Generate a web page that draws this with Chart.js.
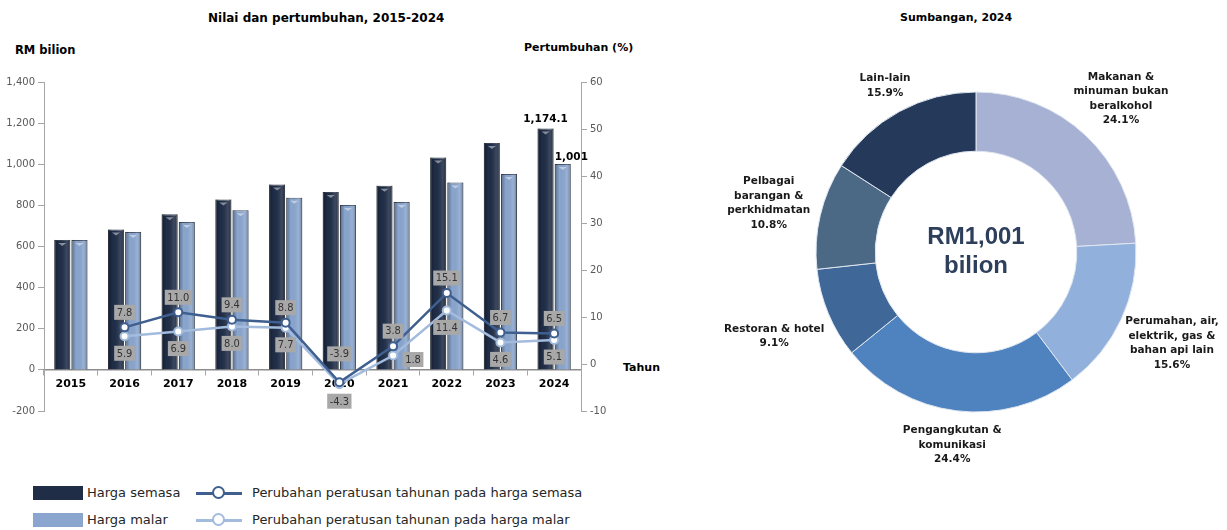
<!DOCTYPE html>
<html>
<head>
<meta charset="utf-8">
<script src="https://cdn.jsdelivr.net/npm/chart.js@4.4.1/dist/chart.umd.min.js"></script>
<style>
    body {
        margin: 0;
        width: 1227px;
        height: 530px;
        background: #fff;
        position: relative;
        overflow: hidden;
        font-family: "DejaVu Sans", sans-serif;
    }
    .abs { position: absolute; white-space: nowrap; }
    .hd { font-weight: bold; font-size: 12px; line-height: 14px; color: #000; }
    .lg { font-size: 13px; line-height: 16px; color: #262626; }
    .swatch { position: absolute; width: 50px; height: 14px; }
    .mline { position: absolute; width: 46px; height: 3px; }
    .mdot { position: absolute; width: 9px; height: 9px; border-radius: 50%; background: #fff; border: 2.5px solid; }
    #barWrap { position: absolute; left: 0; top: 70px; width: 620px; height: 352px; }
    #pieWrap { position: absolute; left: 690px; top: 40px; width: 537px; height: 440px; }
</style>
</head>
<body>

<div class="abs hd" style="left:208px; top:11px;">Nilai dan pertumbuhan, 2015-2024</div>
<div class="abs hd" style="left:15px; top:43px; font-size:11.5px;">RM bilion</div>
<div class="abs hd" style="left:524px; top:41px; font-size:11px;">Pertumbuhan (%)</div>
<div class="abs hd" style="left:623px; top:361px; font-size:11px;">Tahun</div>
<div class="abs hd" style="left:900px; top:11px; font-size:11px;">Sumbangan, 2024</div>

<div id="barWrap"><canvas id="barChart" width="620" height="352"></canvas></div>
<div id="pieWrap"><canvas id="pieChart" width="537" height="440"></canvas></div>

<!-- legend -->
<div class="swatch" style="left:33px; top:486px; background:#1f2d47;"></div>
<div class="abs lg" style="left:87px; top:485px;">Harga semasa</div>
<div class="mline" style="left:196px; top:491.5px; background:#3e5f8f;"></div>
<div class="mdot" style="left:212px; top:486px; border-color:#3e5f8f;"></div>
<div class="abs lg" style="left:252px; top:485px;">Perubahan peratusan tahunan pada harga semasa</div>

<div class="swatch" style="left:33px; top:513px; background:#8aa6cf;"></div>
<div class="abs lg" style="left:87px; top:512px;">Harga malar</div>
<div class="mline" style="left:196px; top:518.5px; background:#a3bbdd;"></div>
<div class="mdot" style="left:212px; top:513px; border-color:#a3bbdd;"></div>
<div class="abs lg" style="left:252px; top:512px;">Perubahan peratusan tahunan pada harga malar</div>

<script>
    'use strict';

    /**
     * Chart data
     */
    var years = ['2015', '2016', '2017', '2018', '2019', '2020', '2021', '2022', '2023', '2024'];
    var hargaSemasa = [632, 683, 757, 829, 902, 865, 896, 1033, 1103, 1174.1];
    var hargaMalar = [632, 671, 719, 776, 837, 802, 817, 911, 953, 1001];
    var growthSemasa = [null, 7.8, 11.0, 9.4, 8.8, -3.9, 3.8, 15.1, 6.7, 6.5];
    var growthMalar = [null, 5.9, 6.9, 8.0, 7.7, -4.3, 1.8, 11.4, 4.6, 5.1];
    var leftTicks = [-200, 0, 200, 400, 600, 800, 1000, 1200, 1400];
    var rightTicks = [-10, 0, 10, 20, 30, 40, 50, 60];

    var sectorNames = [
        ['Makanan &', 'minuman bukan', 'beralkohol'],
        ['Perumahan, air,', 'elektrik, gas &', 'bahan api lain'],
        ['Pengangkutan &', 'komunikasi'],
        ['Restoran & hotel'],
        ['Pelbagai', 'barangan &', 'perkhidmatan'],
        ['Lain-lain']
    ];
    var sectorShares = [24.1, 15.6, 24.4, 9.1, 10.8, 15.9];

    /**
     * Colours
     */
    var darkBar = '#1f2d47';
    var lightBar = '#8aa6cf';
    var darkLine = '#3e5f8f';
    var lightLine = '#a3bbdd';
    var sectorColors = ['#a7b1d3', '#91b1dc', '#4f83bf', '#3f6899', '#4b6885', '#253a5a'];
    var axisGray = '#a6a6a6';

    function formatNumber(num) {
        return Number(num).toLocaleString('en-US');
    }

    /**
     * Shading on the bars, drawn before the lines
     */
    var barShade = {
        id: 'barShade',
        afterDatasetDraw: function(chart, args) {
            var meta = args.meta;
            if (meta.type !== 'bar') return;
            var ctx = chart.ctx;
            meta.data.forEach(function(bar) {
                var left = bar.x - bar.width / 2;
                var top = Math.min(bar.y, bar.base);
                var h = Math.abs(bar.base - bar.y);
                var g = ctx.createLinearGradient(left, 0, left + bar.width, 0);
                g.addColorStop(0, 'rgba(0,0,0,0.35)');
                g.addColorStop(0.3, 'rgba(0,0,0,0)');
                g.addColorStop(0.75, 'rgba(255,255,255,0.12)');
                g.addColorStop(1, 'rgba(0,0,0,0.3)');
                ctx.save();
                ctx.fillStyle = g;
                ctx.fillRect(left, top, bar.width, h);
                // little cap highlight
                ctx.fillStyle = 'rgba(255,255,255,0.45)';
                ctx.beginPath();
                ctx.moveTo(left + 4, top + 3);
                ctx.lineTo(left + bar.width - 4, top + 3);
                ctx.lineTo(bar.x, top + 6);
                ctx.closePath();
                ctx.fill();
                ctx.restore();
            });
        }
    };

    /**
     * Grey boxed labels on the growth lines, value labels on last bars
     */
    var valueLabels = {
        id: 'valueLabels',
        afterDatasetsDraw: function(chart) {
            var ctx = chart.ctx;
            var zeroY = chart.scales.y.getPixelForValue(0);
            ctx.save();
            ctx.textAlign = 'center';
            ctx.textBaseline = 'middle';
            ctx.font = '11px "DejaVu Sans Condensed", "DejaVu Sans", sans-serif';

            [2, 3].forEach(function(di) {
                var meta = chart.getDatasetMeta(di);
                var values = chart.data.datasets[di].data;
                meta.data.forEach(function(pt, i) {
                    var v = values[i];
                    if (v === null) return;
                    var text = v.toFixed(1);
                    var cx = pt.x;
                    var cy;
                    if (di === 2) {
                        cy = pt.y - 15;
                        if (cy + 8 > zeroY) cy = zeroY - 16;
                    } else {
                        cy = pt.y + 17;
                        if (v >= 0 && cy + 8 > zeroY + 2) {
                            cx = pt.x + 20;
                            cy = pt.y + 4;
                        }
                    }
                    var w = ctx.measureText(text).width + 5;
                    ctx.fillStyle = '#a8a8a8';
                    ctx.fillRect(cx - w / 2, cy - 7.5, w, 15);
                    ctx.fillStyle = '#333';
                    ctx.fillText(text, cx, cy + 0.5);
                });
            });

            // totals on the 2024 bars
            ctx.font = 'bold 10.5px "DejaVu Sans", sans-serif';
            ctx.fillStyle = '#000';
            ctx.textBaseline = 'bottom';
            var last = years.length - 1;
            var b0 = chart.getDatasetMeta(0).data[last];
            var b1 = chart.getDatasetMeta(1).data[last];
            ctx.textAlign = 'center';
            ctx.fillText(formatNumber(hargaSemasa[last]), b0.x, b0.y - 4);
            ctx.textAlign = 'left';
            ctx.fillText(formatNumber(hargaMalar[last]), b1.x - b1.width / 2, b1.y - 2);
            ctx.restore();
        }
    };

    new Chart(document.getElementById('barChart'), {
        type: 'bar',
        data: {
            labels: years,
            datasets: [{
                label: 'Harga semasa',
                data: hargaSemasa,
                backgroundColor: darkBar,
                borderColor: '#3a4252',
                borderWidth: 1,
                categoryPercentage: 0.64,
                barPercentage: 0.93,
                yAxisID: 'y',
                order: 1
            }, {
                label: 'Harga malar',
                data: hargaMalar,
                backgroundColor: lightBar,
                borderColor: '#4a5568',
                borderWidth: 1,
                categoryPercentage: 0.64,
                barPercentage: 0.93,
                yAxisID: 'y',
                order: 1
            }, {
                type: 'line',
                label: 'Perubahan peratusan tahunan pada harga semasa',
                data: growthSemasa,
                borderColor: darkLine,
                borderWidth: 2.5,
                pointRadius: 4,
                pointBackgroundColor: '#fff',
                pointBorderColor: darkLine,
                pointBorderWidth: 2,
                tension: 0,
                yAxisID: 'y1',
                order: 0
            }, {
                type: 'line',
                label: 'Perubahan peratusan tahunan pada harga malar',
                data: growthMalar,
                borderColor: lightLine,
                borderWidth: 2.5,
                pointRadius: 4,
                pointBackgroundColor: '#fff',
                pointBorderColor: lightLine,
                pointBorderWidth: 2,
                tension: 0,
                yAxisID: 'y1',
                order: 0
            }]
        },
        options: {
            responsive: false,
            animation: false,
            events: [],
            layout: { padding: { top: 12, bottom: 11, left: 0, right: 0 } },
            plugins: {
                legend: { display: false },
                tooltip: { enabled: false }
            },
            scales: {
                x: {
                    position: { y: 0 },
                    offset: true,
                    grid: { offset: true, drawOnChartArea: false, tickLength: 5, color: axisGray },
                    border: { color: '#8c8c8c', width: 1.5 },
                    ticks: {
                        color: '#000',
                        padding: 3,
                        font: { family: '"DejaVu Sans", sans-serif', size: 11, weight: 'bold' }
                    }
                },
                y: {
                    position: 'left',
                    min: leftTicks[0],
                    max: leftTicks[leftTicks.length - 1],
                    afterBuildTicks: function(scale) {
                        scale.ticks = leftTicks.map(function(v) { return { value: v }; });
                    },
                    afterFit: function(scale) { scale.width = 44; },
                    grid: { drawOnChartArea: false, tickLength: 6, color: axisGray },
                    border: { color: axisGray },
                    ticks: {
                        color: '#595959',
                        padding: 3,
                        font: { family: '"DejaVu Sans", sans-serif', size: 10 },
                        callback: function(value) { return formatNumber(value); }
                    }
                },
                y1: {
                    position: 'right',
                    min: rightTicks[0],
                    max: rightTicks[rightTicks.length - 1],
                    afterBuildTicks: function(scale) {
                        scale.ticks = rightTicks.map(function(v) { return { value: v }; });
                    },
                    afterFit: function(scale) { scale.width = 39; },
                    grid: { drawOnChartArea: false, tickLength: 6, color: axisGray },
                    border: { color: axisGray },
                    ticks: {
                        color: '#595959',
                        padding: 3,
                        font: { family: '"DejaVu Sans", sans-serif', size: 10 }
                    }
                }
            }
        },
        plugins: [barShade, valueLabels]
    });

    /**
     * Doughnut labels outside the ring and the total in the hole
     */
    var ringLabels = {
        id: 'ringLabels',
        afterDraw: function(chart) {
            var ctx = chart.ctx;
            var meta = chart.getDatasetMeta(0);
            var lineH = 14.5;
            ctx.save();
            ctx.font = 'bold 10.5px "DejaVu Sans", sans-serif';
            ctx.fillStyle = '#1a1a1a';
            ctx.textAlign = 'center';
            ctx.textBaseline = 'middle';
            meta.data.forEach(function(arc, i) {
                var lines = sectorNames[i].concat([sectorShares[i].toFixed(1) + '%']);
                var w = 0;
                lines.forEach(function(l) { w = Math.max(w, ctx.measureText(l).width); });
                var h = lines.length * lineH;
                var mid = (arc.startAngle + arc.endAngle) / 2;
                var cos = Math.cos(mid), sin = Math.sin(mid);
                // push the block out until its half-extent clears the ring
                var ext = Math.sqrt(Math.pow(cos * w / 2, 2) + Math.pow(sin * h / 2, 2));
                var r = arc.outerRadius + 12 + ext;
                var cx = arc.x + r * cos;
                var cy = arc.y + r * sin;
                cx = Math.min(cx, chart.width - w / 2 - 2);
                lines.forEach(function(l, k) {
                    ctx.fillText(l, cx, cy - h / 2 + lineH * (k + 0.5));
                });
            });

            var a0 = meta.data[0];
            ctx.font = 'bold 24px "Liberation Sans", Arial, sans-serif';
            ctx.fillStyle = '#2e3f5c';
            ctx.fillText('RM' + formatNumber(hargaMalar[hargaMalar.length - 1]), a0.x, a0.y - 15);
            ctx.fillText('bilion', a0.x, a0.y + 14.5);
            ctx.restore();
        }
    };

    new Chart(document.getElementById('pieChart'), {
        type: 'doughnut',
        data: {
            labels: sectorNames.map(function(n) { return n.join(' '); }),
            datasets: [{
                data: sectorShares,
                backgroundColor: sectorColors,
                borderColor: '#dfe6f0',
                borderWidth: 1
            }]
        },
        options: {
            responsive: false,
            animation: false,
            events: [],
            radius: 160,
            cutout: '63%',
            layout: { padding: { left: 35, right: 0, top: 0, bottom: 16 } },
            plugins: {
                legend: { display: false },
                tooltip: { enabled: false }
            }
        },
        plugins: [ringLabels]
    });
</script>
</body>
</html>
